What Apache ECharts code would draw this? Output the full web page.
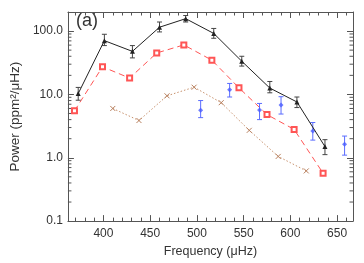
<!DOCTYPE html>
<html><head><meta charset="utf-8">
<script src="https://cdn.jsdelivr.net/npm/echarts@6/dist/echarts.min.js"></script>
<style>html,body{margin:0;padding:0;background:#fff}#c{width:364px;height:263px}</style>
</head><body><div id="c"></div>
<script>
// ---- data ----
const blackX = [373, 401, 431, 460, 488, 518, 548, 578, 607, 637];
const blackY = [10.3, 70.6, 47.8, 115, 157, 91.8, 33.4, 12.6, 7.6, 1.50];
const blackLo = [8.1, 59, 37.7, 97, 139, 77, 28, 10.6, 6.2, 1.12];
const blackHi = [12.9, 89, 59, 139, 176, 110, 40, 16, 9.1, 1.93];

const redX = [369, 399, 428, 457, 486, 516, 545, 575, 604, 635];
const redY = [5.5, 27.3, 18.1, 45.1, 60.5, 34.7, 12.7, 4.8, 2.8, 0.57];

const brownX = [410, 438, 468, 497, 526, 556, 587, 617];
const brownY = [6.0, 3.87, 9.5, 13.0, 7.4, 2.71, 1.05, 0.62];

const blueX = [504, 535, 567, 590, 624, 658];
const blueY = [5.6, 11.9, 5.7, 6.8, 2.64, 1.64];
const blueLo = [4.3, 9.1, 4.0, 4.9, 1.9, 1.1];
const blueHi = [8.0, 14.9, 7.2, 9.2, 3.6, 2.2];

const xMajorTicks = [400, 450, 500, 550, 600, 650];
const xMinorTicks = [370,380,390,410,420,430,440,460,470,480,490,510,520,530,540,560,570,580,590,610,620,630,640,660];
const yMinorTicks = [0.2,0.3,0.4,0.5,0.6,0.7,0.8,0.9,2,3,4,5,6,7,8,9,20,30,40,50,60,70,80,90];

const X_MIN = 362, X_MAX = 667, Y_MIN = 0.1, Y_MAX = 200;
const FONT = 'Liberation Sans';
const AX = '#555', TXT = '#333';

const zip = (a, b) => a.map((v, i) => [v, b[i]]);
const zip3 = (a, b, c) => a.map((v, i) => [v, b[i], c[i]]);

function xAxisDef(pos, ticks, len, showLabel, showLine) {
  return {
    type: 'value', min: X_MIN, max: X_MAX, position: pos,
    axisLine: {show: showLine, onZero: false, lineStyle: {color: AX, width: 1}},
    axisTick: {show: true, inside: true, length: len, customValues: ticks, lineStyle: {color: AX}},
    axisLabel: showLabel ? {show: true, customValues: xMajorTicks, color: TXT, fontFamily: FONT, fontSize: 12, margin: 7} : {show: false},
    splitLine: {show: false}
  };
}

function errRender(color) {
  return function (params, api) {
    const x = api.value(0), lo = api.value(1), hi = api.value(2);
    const p1 = api.coord([x, hi]), p2 = api.coord([x, lo]);
    const st = {stroke: color, lineWidth: 1};
    return {type: 'group', children: [
      {type: 'line', shape: {x1: p1[0], y1: p1[1], x2: p2[0], y2: p2[1]}, style: st},
      {type: 'line', shape: {x1: p1[0]-2.5, y1: p1[1], x2: p1[0]+2.5, y2: p1[1]}, style: st},
      {type: 'line', shape: {x1: p2[0]-2.5, y1: p2[1], x2: p2[0]+2.5, y2: p2[1]}, style: st}
    ]};
  };
}

const chart = echarts.init(document.getElementById('c'), null, {renderer: 'canvas'});
chart.setOption({
  animation: false,
  backgroundColor: '#fff',
  grid: {left: 64, right: 11, top: 12, bottom: 37},
  xAxis: [
    Object.assign(xAxisDef('bottom', xMajorTicks, 6, true, true), {
      name: 'Frequency (\u03bcHz)', nameLocation: 'middle', nameGap: 20,
      nameTextStyle: {color: TXT, fontFamily: FONT, fontSize: 12.5}
    }),
    xAxisDef('bottom', xMinorTicks, 3.5, false, false),
    xAxisDef('top', xMajorTicks, 6, false, true),
    xAxisDef('top', xMinorTicks, 3.5, false, false)
  ],
  yAxis: [
    {
      type: 'log', logBase: 10, min: Y_MIN, max: Y_MAX, position: 'left',
      axisLine: {show: true, onZero: false, lineStyle: {color: AX}},
      axisTick: {show: true, inside: true, length: 6, lineStyle: {color: AX}},
      axisLabel: {color: TXT, fontFamily: FONT, fontSize: 12, margin: 5, showMaxLabel: false,
        formatter: v => (v >= 1 ? Number(v).toFixed(1) : String(Math.round(v * 10) / 10))},
      splitLine: {show: false},
      name: 'Power (ppm\u00b2/\u03bcHz)', nameLocation: 'middle', nameGap: 44, nameRotate: 90,
      nameTextStyle: {color: TXT, fontFamily: FONT, fontSize: 13.5}
    },
    {
      type: 'log', logBase: 10, min: Y_MIN, max: Y_MAX, position: 'right',
      axisLine: {show: true, onZero: false, lineStyle: {color: AX}},
      axisTick: {show: true, inside: true, length: 6, lineStyle: {color: AX}},
      axisLabel: {show: false}, splitLine: {show: false}
    }
  ],
  graphic: [{
    type: 'text', left: 76, top: 12,
    style: {text: '(a)', fontFamily: FONT, fontSize: 18, fill: '#333'}
  }],
  series: [
    {
      type: 'custom', xAxisIndex: 0, yAxisIndex: 0, silent: true,
      data: yMinorTicks.map(v => [v]),
      renderItem: function (params, api) {
        const v = api.value(0);
        const pl = api.coord([X_MIN, v]), pr = api.coord([X_MAX, v]);
        const st = {stroke: AX, lineWidth: 1};
        return {type: 'group', children: [
          {type: 'line', shape: {x1: pl[0], y1: pl[1], x2: pl[0] + 3.5, y2: pl[1]}, style: st},
          {type: 'line', shape: {x1: pr[0], y1: pr[1], x2: pr[0] - 3.5, y2: pr[1]}, style: st}
        ]};
      },
      encode: {y: 0}, z: 1
    },
    {
      type: 'line', data: zip(brownX, brownY), symbol: 'path://M0,0L10,10M10,0L0,10', symbolSize: 5,
      lineStyle: {color: '#c8926e', width: 1, type: [1.5, 2]},
      itemStyle: {color: 'none', borderColor: '#b8805e', borderWidth: 1}, z: 3
    },
    {
      type: 'line', data: zip(redX, redY), symbol: 'emptyRect', symbolSize: 5,
      lineStyle: {color: '#ff5555', width: 1, type: [6, 4]},
      itemStyle: {color: '#ff5555', borderWidth: 0.8}, z: 4
    },
    {
      type: 'custom', data: zip3(blueX, blueLo, blueHi), renderItem: errRender('#5a6cff'), z: 5,
      encode: {x: 0, y: [1, 2]}
    },
    {
      type: 'scatter', data: zip(blueX, blueY), symbol: 'diamond', symbolSize: 5,
      itemStyle: {color: '#4a5cff'}, z: 6
    },
    {
      type: 'custom', data: zip3(blackX, blackLo, blackHi), renderItem: errRender('#444'), z: 7,
      encode: {x: 0, y: [1, 2]}
    },
    {
      type: 'line', data: zip(blackX, blackY), symbol: 'triangle', symbolSize: 5,
      lineStyle: {color: '#222', width: 1}, itemStyle: {color: '#222'}, z: 8
    }
  ]
});
</script></body></html>
